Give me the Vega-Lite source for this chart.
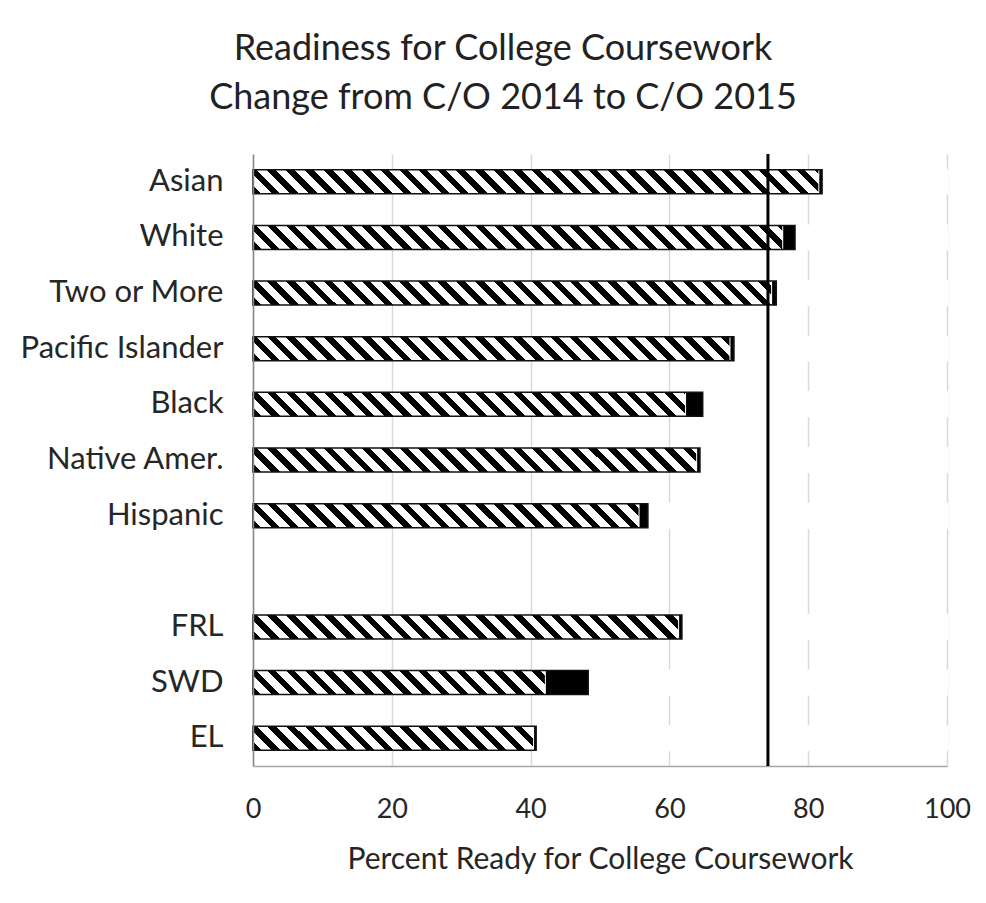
{
  "$schema": "https://vega.github.io/schema/vega-lite/v6.json",
  "width": 694,
  "height": 612,
  "autosize": {"type": "none"},
  "padding": {"left": 253, "top": 154, "right": 39, "bottom": 137},
  "background": "#ffffff",
  "title": {
    "text": ["Readiness for College Coursework", "Change from C/O 2014 to C/O 2015"],
    "font": "Lato",
    "fontSize": 36,
    "fontWeight": "normal",
    "color": "#222222",
    "lineHeight": 49,
    "anchor": "middle",
    "frame": "group",
    "dx": -97,
    "offset": 36
  },
  "data": {
    "values": [
      {"group": "Asian", "co2014": 81.6, "co2015": 82.0},
      {"group": "White", "co2014": 76.4, "co2015": 78.1},
      {"group": "Two or More", "co2014": 74.8, "co2015": 75.4},
      {"group": "Pacific Islander", "co2014": 68.8, "co2015": 69.3},
      {"group": "Black", "co2014": 62.4, "co2015": 64.8},
      {"group": "Native Amer.", "co2014": 64.0, "co2015": 64.4},
      {"group": "Hispanic", "co2014": 55.7, "co2015": 56.9},
      {"group": "FRL", "co2014": 61.4, "co2015": 61.8},
      {"group": "SWD", "co2014": 42.2, "co2015": 48.3},
      {"group": "EL", "co2014": 40.5, "co2015": 40.8}
    ]
  },
  "layer": [
    {
      "mark": {
        "type": "bar",
        "orient": "horizontal",
        "strokeWidth": 0,
        "fill": {
          "gradient": "linear",
          "x1": -0.03458, "y1": 0, "x2": 0.99877, "y2": -0.035735,
          "stops": [
            {"offset": 0, "color": "#000"}, {"offset": 0.011842, "color": "#000"}, {"offset": 0.011842, "color": "#fff"}, {"offset": 0.026316, "color": "#fff"},
            {"offset": 0.026316, "color": "#000"}, {"offset": 0.038158, "color": "#000"}, {"offset": 0.038158, "color": "#fff"}, {"offset": 0.052632, "color": "#fff"},
            {"offset": 0.052632, "color": "#000"}, {"offset": 0.064474, "color": "#000"}, {"offset": 0.064474, "color": "#fff"}, {"offset": 0.078947, "color": "#fff"},
            {"offset": 0.078947, "color": "#000"}, {"offset": 0.090789, "color": "#000"}, {"offset": 0.090789, "color": "#fff"}, {"offset": 0.105263, "color": "#fff"},
            {"offset": 0.105263, "color": "#000"}, {"offset": 0.117105, "color": "#000"}, {"offset": 0.117105, "color": "#fff"}, {"offset": 0.131579, "color": "#fff"},
            {"offset": 0.131579, "color": "#000"}, {"offset": 0.143421, "color": "#000"}, {"offset": 0.143421, "color": "#fff"}, {"offset": 0.157895, "color": "#fff"},
            {"offset": 0.157895, "color": "#000"}, {"offset": 0.169737, "color": "#000"}, {"offset": 0.169737, "color": "#fff"}, {"offset": 0.184211, "color": "#fff"},
            {"offset": 0.184211, "color": "#000"}, {"offset": 0.196053, "color": "#000"}, {"offset": 0.196053, "color": "#fff"}, {"offset": 0.210526, "color": "#fff"},
            {"offset": 0.210526, "color": "#000"}, {"offset": 0.222368, "color": "#000"}, {"offset": 0.222368, "color": "#fff"}, {"offset": 0.236842, "color": "#fff"},
            {"offset": 0.236842, "color": "#000"}, {"offset": 0.248684, "color": "#000"}, {"offset": 0.248684, "color": "#fff"}, {"offset": 0.263158, "color": "#fff"},
            {"offset": 0.263158, "color": "#000"}, {"offset": 0.275, "color": "#000"}, {"offset": 0.275, "color": "#fff"}, {"offset": 0.289474, "color": "#fff"},
            {"offset": 0.289474, "color": "#000"}, {"offset": 0.301316, "color": "#000"}, {"offset": 0.301316, "color": "#fff"}, {"offset": 0.315789, "color": "#fff"},
            {"offset": 0.315789, "color": "#000"}, {"offset": 0.327632, "color": "#000"}, {"offset": 0.327632, "color": "#fff"}, {"offset": 0.342105, "color": "#fff"},
            {"offset": 0.342105, "color": "#000"}, {"offset": 0.353947, "color": "#000"}, {"offset": 0.353947, "color": "#fff"}, {"offset": 0.368421, "color": "#fff"},
            {"offset": 0.368421, "color": "#000"}, {"offset": 0.380263, "color": "#000"}, {"offset": 0.380263, "color": "#fff"}, {"offset": 0.394737, "color": "#fff"},
            {"offset": 0.394737, "color": "#000"}, {"offset": 0.406579, "color": "#000"}, {"offset": 0.406579, "color": "#fff"}, {"offset": 0.421053, "color": "#fff"},
            {"offset": 0.421053, "color": "#000"}, {"offset": 0.432895, "color": "#000"}, {"offset": 0.432895, "color": "#fff"}, {"offset": 0.447368, "color": "#fff"},
            {"offset": 0.447368, "color": "#000"}, {"offset": 0.459211, "color": "#000"}, {"offset": 0.459211, "color": "#fff"}, {"offset": 0.473684, "color": "#fff"},
            {"offset": 0.473684, "color": "#000"}, {"offset": 0.485526, "color": "#000"}, {"offset": 0.485526, "color": "#fff"}, {"offset": 0.5, "color": "#fff"},
            {"offset": 0.5, "color": "#000"}, {"offset": 0.511842, "color": "#000"}, {"offset": 0.511842, "color": "#fff"}, {"offset": 0.526316, "color": "#fff"},
            {"offset": 0.526316, "color": "#000"}, {"offset": 0.538158, "color": "#000"}, {"offset": 0.538158, "color": "#fff"}, {"offset": 0.552632, "color": "#fff"},
            {"offset": 0.552632, "color": "#000"}, {"offset": 0.564474, "color": "#000"}, {"offset": 0.564474, "color": "#fff"}, {"offset": 0.578947, "color": "#fff"},
            {"offset": 0.578947, "color": "#000"}, {"offset": 0.590789, "color": "#000"}, {"offset": 0.590789, "color": "#fff"}, {"offset": 0.605263, "color": "#fff"},
            {"offset": 0.605263, "color": "#000"}, {"offset": 0.617105, "color": "#000"}, {"offset": 0.617105, "color": "#fff"}, {"offset": 0.631579, "color": "#fff"},
            {"offset": 0.631579, "color": "#000"}, {"offset": 0.643421, "color": "#000"}, {"offset": 0.643421, "color": "#fff"}, {"offset": 0.657895, "color": "#fff"},
            {"offset": 0.657895, "color": "#000"}, {"offset": 0.669737, "color": "#000"}, {"offset": 0.669737, "color": "#fff"}, {"offset": 0.684211, "color": "#fff"},
            {"offset": 0.684211, "color": "#000"}, {"offset": 0.696053, "color": "#000"}, {"offset": 0.696053, "color": "#fff"}, {"offset": 0.710526, "color": "#fff"},
            {"offset": 0.710526, "color": "#000"}, {"offset": 0.722368, "color": "#000"}, {"offset": 0.722368, "color": "#fff"}, {"offset": 0.736842, "color": "#fff"},
            {"offset": 0.736842, "color": "#000"}, {"offset": 0.748684, "color": "#000"}, {"offset": 0.748684, "color": "#fff"}, {"offset": 0.763158, "color": "#fff"},
            {"offset": 0.763158, "color": "#000"}, {"offset": 0.775, "color": "#000"}, {"offset": 0.775, "color": "#fff"}, {"offset": 0.789474, "color": "#fff"},
            {"offset": 0.789474, "color": "#000"}, {"offset": 0.801316, "color": "#000"}, {"offset": 0.801316, "color": "#fff"}, {"offset": 0.815789, "color": "#fff"},
            {"offset": 0.815789, "color": "#000"}, {"offset": 0.827632, "color": "#000"}, {"offset": 0.827632, "color": "#fff"}, {"offset": 0.842105, "color": "#fff"},
            {"offset": 0.842105, "color": "#000"}, {"offset": 0.853947, "color": "#000"}, {"offset": 0.853947, "color": "#fff"}, {"offset": 0.868421, "color": "#fff"},
            {"offset": 0.868421, "color": "#000"}, {"offset": 0.880263, "color": "#000"}, {"offset": 0.880263, "color": "#fff"}, {"offset": 0.894737, "color": "#fff"},
            {"offset": 0.894737, "color": "#000"}, {"offset": 0.906579, "color": "#000"}, {"offset": 0.906579, "color": "#fff"}, {"offset": 0.921053, "color": "#fff"},
            {"offset": 0.921053, "color": "#000"}, {"offset": 0.932895, "color": "#000"}, {"offset": 0.932895, "color": "#fff"}, {"offset": 0.947368, "color": "#fff"},
            {"offset": 0.947368, "color": "#000"}, {"offset": 0.959211, "color": "#000"}, {"offset": 0.959211, "color": "#fff"}, {"offset": 0.973684, "color": "#fff"},
            {"offset": 0.973684, "color": "#000"}, {"offset": 0.985526, "color": "#000"}, {"offset": 0.985526, "color": "#fff"}, {"offset": 1, "color": "#fff"}
          ]
        }
      },
      "encoding": {
        "y": {
          "field": "group",
          "type": "nominal",
          "title": null,
          "scale": {
            "domain": ["Asian", "White", "Two or More", "Pacific Islander", "Black", "Native Amer.", "Hispanic", " ", "FRL", "SWD", "EL"],
            "paddingInner": 0.569,
            "paddingOuter": 0.2845
          },
          "axis": {"zindex": 2}
        },
        "x": {"value": 0},
        "x2": {"value": "width"}
      }
    },
    {
      "mark": {"type": "bar", "orient": "horizontal", "fill": "#ffffff", "stroke": "#ffffff", "strokeWidth": 2},
      "encoding": {
        "y": {"field": "group", "type": "nominal", "title": null},
        "x": {
          "field": "co2014",
          "type": "quantitative",
          "stack": null,
          "title": "Percent Ready for College Coursework",
          "scale": {"domain": [0, 100], "nice": false, "zero": true},
          "axis": {"values": [0, 20, 40, 60, 80, 100], "zindex": 0}
        },
        "x2": {"value": "width"}
      }
    },
    {
      "mark": {"type": "bar", "orient": "horizontal", "fill": "#000000", "strokeWidth": 0},
      "encoding": {
        "y": {"field": "group", "type": "nominal", "title": null},
        "x": {"field": "co2014", "type": "quantitative", "stack": null, "title": "Percent Ready for College Coursework"},
        "x2": {"field": "co2015"}
      }
    },
    {
      "mark": {"type": "bar", "orient": "horizontal", "fill": "#ffffff", "fillOpacity": 0, "stroke": "#111111", "strokeWidth": 1.5},
      "encoding": {
        "y": {"field": "group", "type": "nominal", "title": null},
        "x": {"field": "co2015", "type": "quantitative", "stack": null, "title": "Percent Ready for College Coursework"}
      }
    },
    {
      "data": {"values": [{"benchmark": 74.2}]},
      "mark": {"type": "rule", "stroke": "#000000", "strokeWidth": 3},
      "encoding": {
        "x": {"field": "benchmark", "type": "quantitative", "title": "Percent Ready for College Coursework"}
      }
    }
  ],
  "config": {
    "view": {"stroke": null},
    "axisX": {
      "grid": true,
      "gridColor": "#d9d9d9",
      "gridWidth": 1.5,
      "domain": true,
      "domainColor": "#a6a6a6",
      "domainWidth": 1.5,
      "ticks": false,
      "tickSize": 0,
      "labelPadding": 30,
      "labelFlush": false,
      "labelFont": "Lato",
      "labelFontSize": 27,
      "labelColor": "#262626",
      "titleFont": "Lato",
      "titleFontSize": 30,
      "titleFontWeight": "normal",
      "titleColor": "#262626",
      "titlePadding": 22
    },
    "axisY": {
      "grid": false,
      "domain": true,
      "domainColor": "#888888",
      "domainWidth": 1.5,
      "ticks": false,
      "tickSize": 0,
      "labelPadding": 30,
      "labelLimit": 400,
      "labelFont": "Lato",
      "labelFontSize": 31,
      "labelColor": "#262626"
    }
  }
}
